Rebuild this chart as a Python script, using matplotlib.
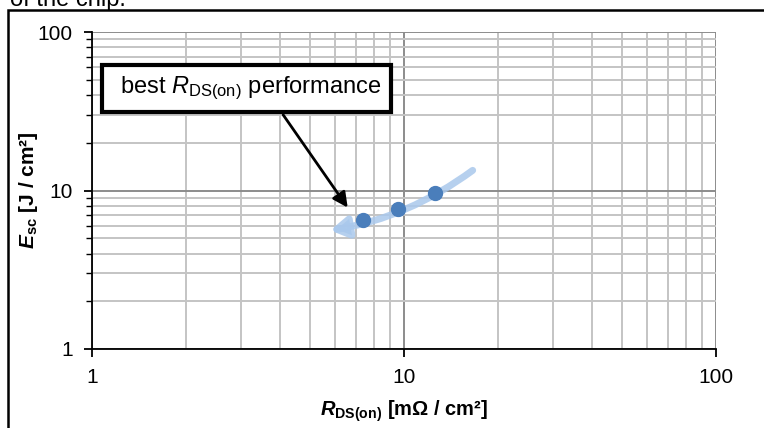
import matplotlib.pyplot as plt
from matplotlib.patches import Rectangle
from matplotlib.ticker import LogLocator, NullFormatter

# data
r_dson = [7.4, 9.6, 12.6]      # mOhm / cm2
e_sc = [6.5, 7.6, 9.7]         # J / cm2

# trend arrow (from, to) and annotation target
trend_start = (16.6, 13.4)
trend_end = (5.8, 5.6)
label_target = (6.6, 7.8)
label_source = (4.1, 30.0)

plt.rcParams['font.family'] = ['Liberation Sans', 'DejaVu Sans']
plt.rcParams['mathtext.fontset'] = 'custom'
plt.rcParams['mathtext.rm'] = 'Liberation Sans'
plt.rcParams['mathtext.it'] = 'Liberation Sans:italic'
plt.rcParams['mathtext.bf'] = 'Liberation Sans:bold'
plt.rcParams['mathtext.bfit'] = 'Liberation Sans:bold:italic'

fig = plt.figure(figsize=(7.64, 4.28), dpi=100)
ax = fig.add_axes([92 / 764, 1 - 349 / 428, (716 - 92) / 764, (349 - 32) / 428])

ax.set_xscale('log')
ax.set_yscale('log')
ax.set_xlim(1, 100)
ax.set_ylim(1, 100)

ax.xaxis.set_minor_locator(LogLocator(base=10, subs=range(2, 10)))
ax.yaxis.set_minor_locator(LogLocator(base=10, subs=range(2, 10)))
ax.xaxis.set_minor_formatter(NullFormatter())
ax.yaxis.set_minor_formatter(NullFormatter())
ax.set_xticks([1, 10, 100], ['1', '10', '100'])
ax.set_yticks([1, 10, 100], ['1', '10', '100'])

ax.grid(which='major', color='#8c8c8c', linewidth=1.4)
ax.grid(which='minor', color='#c4c4c4', linewidth=1.4)
ax.set_axisbelow(True)

for side in ['top', 'right']:
    ax.spines[side].set_visible(False)
for side in ['left', 'bottom']:
    ax.spines[side].set_linewidth(1.3)

ax.tick_params(which='major', direction='out', length=6, width=1.3, labelsize=15, pad=8)
ax.tick_params(axis='y', which='minor', direction='out', length=4, width=1.0)
ax.tick_params(axis='x', which='minor', length=0)

ax.set_xlabel(r'$\boldsymbol{R}_{\mathbf{DS(on)}}$ [m$\mathbf{\Omega}$ / cm²]', fontsize=14.5,
              fontweight='bold')
ax.xaxis.set_label_coords(0.5, -(398 - 349) / 317)
ax.set_ylabel(r'$\boldsymbol{E}_{\mathbf{sc}}$ [J / cm²]', fontsize=15, fontweight='bold')
ax.yaxis.set_label_coords(-(92 - 40) / 624, 0.5)

# light blue trend arrow
ax.annotate('', xy=trend_end, xytext=trend_start,
            arrowprops=dict(arrowstyle='-|>,head_length=1.0,head_width=0.6',
                            color='#a9c8ec', lw=5, alpha=0.85,
                            connectionstyle='arc3,rad=-0.12', shrinkA=0, shrinkB=0))

ax.plot(r_dson, e_sc, 'o', color='#4a7ebb', markersize=10, zorder=5)

# label box with black arrow
ax.annotate('', xy=label_target, xytext=label_source,
            arrowprops=dict(arrowstyle='-|>,head_length=0.9,head_width=0.45',
                            color='black', lw=2, shrinkA=0, shrinkB=0), zorder=6)
fig.patches.append(Rectangle((102 / 764, 1 - 112 / 428), (391 - 102) / 764, 47 / 428,
                             transform=fig.transFigure, facecolor='white',
                             edgecolor='black', linewidth=3, zorder=7))
fig.text(120 / 764, 1 - 88 / 428, r'best $R_{\mathrm{DS(on)}}$ performance', fontsize=17,
         va='center', ha='left', zorder=8)

# outer frame and clipped caption line above
fig.patches.append(Rectangle((8 / 764, -0.1), 1.0, 1 - 10 / 428 + 0.1,
                             transform=fig.transFigure, facecolor='none',
                             edgecolor='black', linewidth=1.8, zorder=1))
fig.text(10 / 764, 1 - 6 / 428, 'of the chip.', fontsize=17, va='baseline', ha='left')

fig.savefig('out.png', dpi=100)
